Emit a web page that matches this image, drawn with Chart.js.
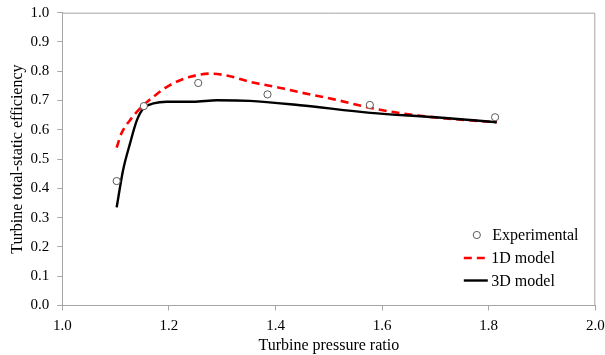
<!DOCTYPE html>
<html>
<head>
<meta charset="utf-8">
<script src="https://cdn.jsdelivr.net/npm/chart.js@4/dist/chart.umd.min.js"></script>
<style>
  html, body { margin: 0; padding: 0; background: #fff; }
  #wrap { width: 605px; height: 355px; }
</style>
</head>
<body>
<div id="wrap"><canvas id="efficiency-chart"></canvas></div>
<script>
// experimental points
const pressureRatioExp = [1.102, 1.153, 1.255, 1.385, 1.577, 1.812]
const efficiencyExp = [0.425, 0.681, 0.760, 0.721, 0.685, 0.643]

// 1D model curve
const pressureRatio1D = [1.102, 1.111, 1.127, 1.146, 1.171, 1.202, 1.240, 1.277, 1.315, 1.352, 1.415, 1.446, 1.510, 1.578, 1.637, 1.732, 1.815]
const efficiency1D = [0.539, 0.588, 0.633, 0.673, 0.713, 0.753, 0.781, 0.792, 0.783, 0.764, 0.741, 0.728, 0.704, 0.675, 0.656, 0.637, 0.626]

// 3D model curve
const pressureRatio3D = [1.102, 1.114, 1.127, 1.140, 1.152, 1.171, 1.196, 1.246, 1.290, 1.352, 1.446, 1.578, 1.700, 1.815]
const efficiency3D = [0.335, 0.462, 0.553, 0.633, 0.673, 0.690, 0.696, 0.696, 0.701, 0.699, 0.684, 0.658, 0.643, 0.626]

const seriesLabels = ['Experimental', '1D model', '3D model']

const xTicks = [1.0, 1.2, 1.4, 1.6, 1.8, 2.0]
const yTicks = [0.0, 0.1, 0.2, 0.3, 0.4, 0.5, 0.6, 0.7, 0.8, 0.9, 1.0]

const FONT = "'Liberation Serif', 'Times New Roman', serif"
const AXIS_GREY = '#a6a6a6'

// draws the top/right frame of the plot and the legend box inside it
const frameAndLegend = {
  id: 'frameAndLegend',
  afterDraw(chart) {
    const { ctx, chartArea } = chart
    ctx.save()
    ctx.strokeStyle = AXIS_GREY
    ctx.lineWidth = 1
    ctx.beginPath()
    ctx.moveTo(chartArea.left, chartArea.top + 0.5)
    ctx.lineTo(chartArea.right - 0.5, chartArea.top + 0.5)
    ctx.lineTo(chartArea.right - 0.5, chartArea.bottom)
    ctx.stroke()

    const ds = chart.data.datasets
    const lineX0 = chartArea.right - 131.5
    const lineX1 = chartArea.right - 107.5
    const textX = chartArea.right - 104
    const rows = [chartArea.bottom - 70.5, chartArea.bottom - 47.5, chartArea.bottom - 25]

    ctx.font = '16px ' + FONT
    ctx.fillStyle = '#000'
    ctx.textBaseline = 'middle'
    ctx.textAlign = 'left'

    // experimental marker
    ctx.beginPath()
    ctx.arc((lineX0 + lineX1) / 2 + 1, rows[0], 3.6, 0, Math.PI * 2)
    ctx.fillStyle = '#fff'
    ctx.fill()
    ctx.strokeStyle = ds[0].pointBorderColor
    ctx.stroke()
    ctx.fillStyle = '#000'
    ctx.fillText(ds[0].label, textX + 1, rows[0] + 1)

    // model lines
    ;[1, 2].forEach((k) => {
      ctx.beginPath()
      ctx.strokeStyle = ds[k].borderColor
      ctx.lineWidth = ds[k].borderWidth
      ctx.setLineDash(ds[k].borderDash || [])
      ctx.moveTo(lineX0, rows[k])
      ctx.lineTo(lineX1, rows[k])
      ctx.stroke()
      ctx.setLineDash([])
      ctx.fillText(ds[k].label, textX, rows[k] + 1)
    })
    ctx.restore()
  },
}

initChart()

function initChart() {
  const ctx = document.getElementById('efficiency-chart')
  Chart.defaults.font.family = FONT
  Chart.defaults.color = '#000'

  new Chart(ctx, {
    type: 'scatter',
    data: {
      datasets: [
        {
          label: seriesLabels[0],
          data: toPoints(pressureRatioExp, efficiencyExp),
          showLine: false,
          pointRadius: 3.6,
          pointBorderWidth: 1,
          pointBorderColor: '#595959',
          pointBackgroundColor: '#fff',
          order: 0,
        },
        {
          label: seriesLabels[1],
          data: toPoints(pressureRatio1D, efficiency1D),
          showLine: true,
          borderColor: '#ff0000',
          borderWidth: 2.6,
          borderDash: [8, 5],
          cubicInterpolationMode: 'monotone',
          pointRadius: 0,
          order: 2,
        },
        {
          label: seriesLabels[2],
          data: toPoints(pressureRatio3D, efficiency3D),
          showLine: true,
          borderColor: '#000',
          borderWidth: 2.4,
          cubicInterpolationMode: 'monotone',
          pointRadius: 0,
          order: 1,
        },
      ],
    },
    options: {
      responsive: true,
      maintainAspectRatio: false,
      animation: false,
      layout: { padding: { top: 12.7, right: 9.7, left: 0, bottom: 0 } },
      plugins: {
        legend: { display: false },
        tooltip: { enabled: false },
      },
      scales: {
        x: {
          type: 'linear',
          min: 1.0,
          max: 2.0,
          afterBuildTicks: (scale) => {
            scale.ticks = xTicks.map((v) => ({ value: v }))
          },
          ticks: {
            callback: (v) => Number(v).toFixed(1),
            font: { size: 15 },
            padding: 7,
            maxRotation: 0,
          },
          grid: {
            drawOnChartArea: false,
            drawTicks: true,
            tickLength: 5,
            tickColor: AXIS_GREY,
          },
          border: { display: true, color: AXIS_GREY, width: 1 },
          title: {
            display: true,
            text: 'Turbine pressure ratio',
            font: { size: 16 },
            padding: { top: 0, bottom: 0 },
          },
          afterFit: (scale) => {
            scale.height = 49.5
            scale.paddingLeft = 0
            scale.paddingRight = 0
          },
        },
        y: {
          type: 'linear',
          min: 0,
          max: 1,
          afterBuildTicks: (scale) => {
            scale.ticks = yTicks.map((v) => ({ value: v }))
          },
          ticks: {
            callback: (v) => Number(v).toFixed(1),
            font: { size: 15 },
            padding: 8,
          },
          grid: {
            drawOnChartArea: false,
            drawTicks: true,
            tickLength: 5,
            tickColor: AXIS_GREY,
          },
          border: { display: true, color: AXIS_GREY, width: 1 },
          title: {
            display: true,
            text: 'Turbine total-static efficiency',
            font: { size: 16 },
            padding: { top: 8, bottom: 0 },
          },
          afterFit: (scale) => {
            scale.width = 62.3
            scale.paddingTop = 0
            scale.paddingBottom = 0
          },
        },
      },
    },
    plugins: [frameAndLegend],
  })
}

/**
 * Turns two arrays into scatter points
 * @param {number[]} xs
 * @param {number[]} ys
 */
function toPoints(xs, ys) {
  return xs.map((x, i) => ({ x, y: ys[i] }))
}
</script>
</body>
</html>
